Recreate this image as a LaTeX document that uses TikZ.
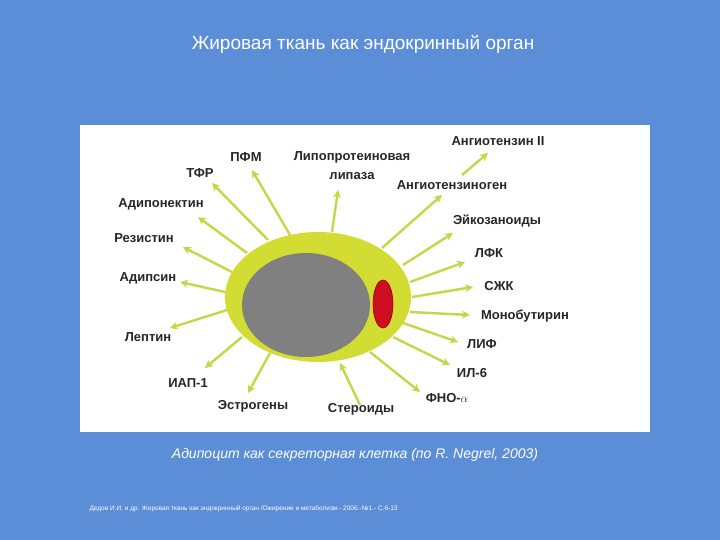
\documentclass[tikz,border=0pt]{standalone}
\usepackage{fontspec}
\setmainfont{Liberation Sans}
\usetikzlibrary{arrows.meta}
\definecolor{bg}{HTML}{5B8ED6}
\definecolor{cellc}{HTML}{D3DC32}
\definecolor{arrc}{HTML}{C6D646}
\definecolor{grayc}{HTML}{808080}
\definecolor{redc}{HTML}{CC0E1E}
\begin{document}
\begin{tikzpicture}[x=1pt,y=-1pt,
  lbl/.style={font=\bfseries\fontsize{13}{14}\selectfont, text=black!85, inner sep=1pt},
  arr/.style={draw=arrc, line width=2.4pt, -{Stealth[length=8pt,width=8pt]}}]
\useasboundingbox (0,0) rectangle (720,540);
\fill[bg] (0,0) rectangle (720,540);
\node[text=white, font=\fontsize{19}{22}\selectfont] (title) at (363,44) {Жировая ткань как эндокринный орган};
\fill[white] (80,125) rectangle (650,432);
\fill[cellc] (318,297) ellipse [x radius=93, y radius=65];
\fill[grayc] (306,305) ellipse [x radius=64, y radius=52];
\fill[redc] (383,304) ellipse [x radius=10, y radius=24];
\draw[red!60!black, line width=0.6pt] (383,304) ellipse [x radius=10, y radius=24];
% labels
\node[lbl] (pfm) at (246,157) {ПФМ};
\node[lbl] (tfr) at (200,173) {ТФР};
\node[lbl] (adipon) at (161,204) {Адипонектин};
\node[lbl] (rez) at (144,238) {Резистин};
\node[lbl] (adips) at (148,278) {Адипсин};
\node[lbl] (lep) at (148,337) {Лептин};
\node[lbl] (iap) at (188,383) {ИАП-1};
\node[lbl] (estr) at (253,406) {Эстрогены};
\node[lbl] (ster) at (361,409) {Стероиды};
\node[lbl] (fno) at (447,398) {ФНО-$\alpha$};
\node[lbl] (il) at (472,373) {ИЛ-6};
\node[lbl] (lif) at (482,344) {ЛИФ};
\node[lbl] (mono) at (525,316) {Монобутирин};
\node[lbl] (szk) at (499,286) {СЖК};
\node[lbl] (lfk) at (489,253) {ЛФК};
\node[lbl] (eik) at (497,221) {Эйкозаноиды};
\node[lbl] (agen) at (452,185) {Ангиотензиноген};
\node[lbl, align=center, font=\bfseries\fontsize{13}{19}\selectfont] (lpl) at (352,166) {Липопротеиновая\\липаза};
\node[lbl] (a2) at (498,141) {Ангиотензин II};
% arrows
\coordinate (s1) at (290,235); \coordinate (t1) at (252,170);
\coordinate (s2) at (268,240); \coordinate (t2) at (212,183);
\coordinate (s3) at (247,253); \coordinate (t3) at (198,217);
\coordinate (s4) at (232,272); \coordinate (t4) at (183,247);
\coordinate (s5) at (225,292); \coordinate (t5) at (180,282);
\coordinate (s6) at (227,310); \coordinate (t6) at (170,328);
\coordinate (s7) at (242,337); \coordinate (t7) at (205,368);
\coordinate (s8) at (270,353); \coordinate (t8) at (248,393);
\coordinate (s9) at (360,405); \coordinate (t9) at (340,363);
\coordinate (s10) at (370,352); \coordinate (t10) at (420,392);
\coordinate (s11) at (393,337); \coordinate (t11) at (450,365);
\coordinate (s12) at (403,323); \coordinate (t12) at (458,342);
\coordinate (s13) at (410,312); \coordinate (t13) at (470,315);
\coordinate (s14) at (412,297); \coordinate (t14) at (473,287);
\coordinate (s15) at (410,282); \coordinate (t15) at (465,262);
\coordinate (s16) at (403,265); \coordinate (t16) at (453,233);
\coordinate (s17) at (382,248); \coordinate (t17) at (442,195);
\coordinate (s18) at (332,232); \coordinate (t18) at (338,190);
\coordinate (s19) at (462,175); \coordinate (t19) at (488,153);
\foreach \i in {1,...,19} {\draw[arr] (s\i) -- (t\i);}
\node[text=white, font=\itshape\fontsize{14}{16}\selectfont] (cap) at (355,455) {Адипоцит как секреторная клетка (по R. Negrel, 2003)};
\node[text=white, font=\fontsize{6.5}{7}\selectfont, anchor=west] (ref) at (86,509) {Дедов И.И. и др. Жировая ткань как эндокринный орган /Ожирение и метаболизм.- 2006.-№1.- С.6-13};
\end{tikzpicture}
\end{document}
